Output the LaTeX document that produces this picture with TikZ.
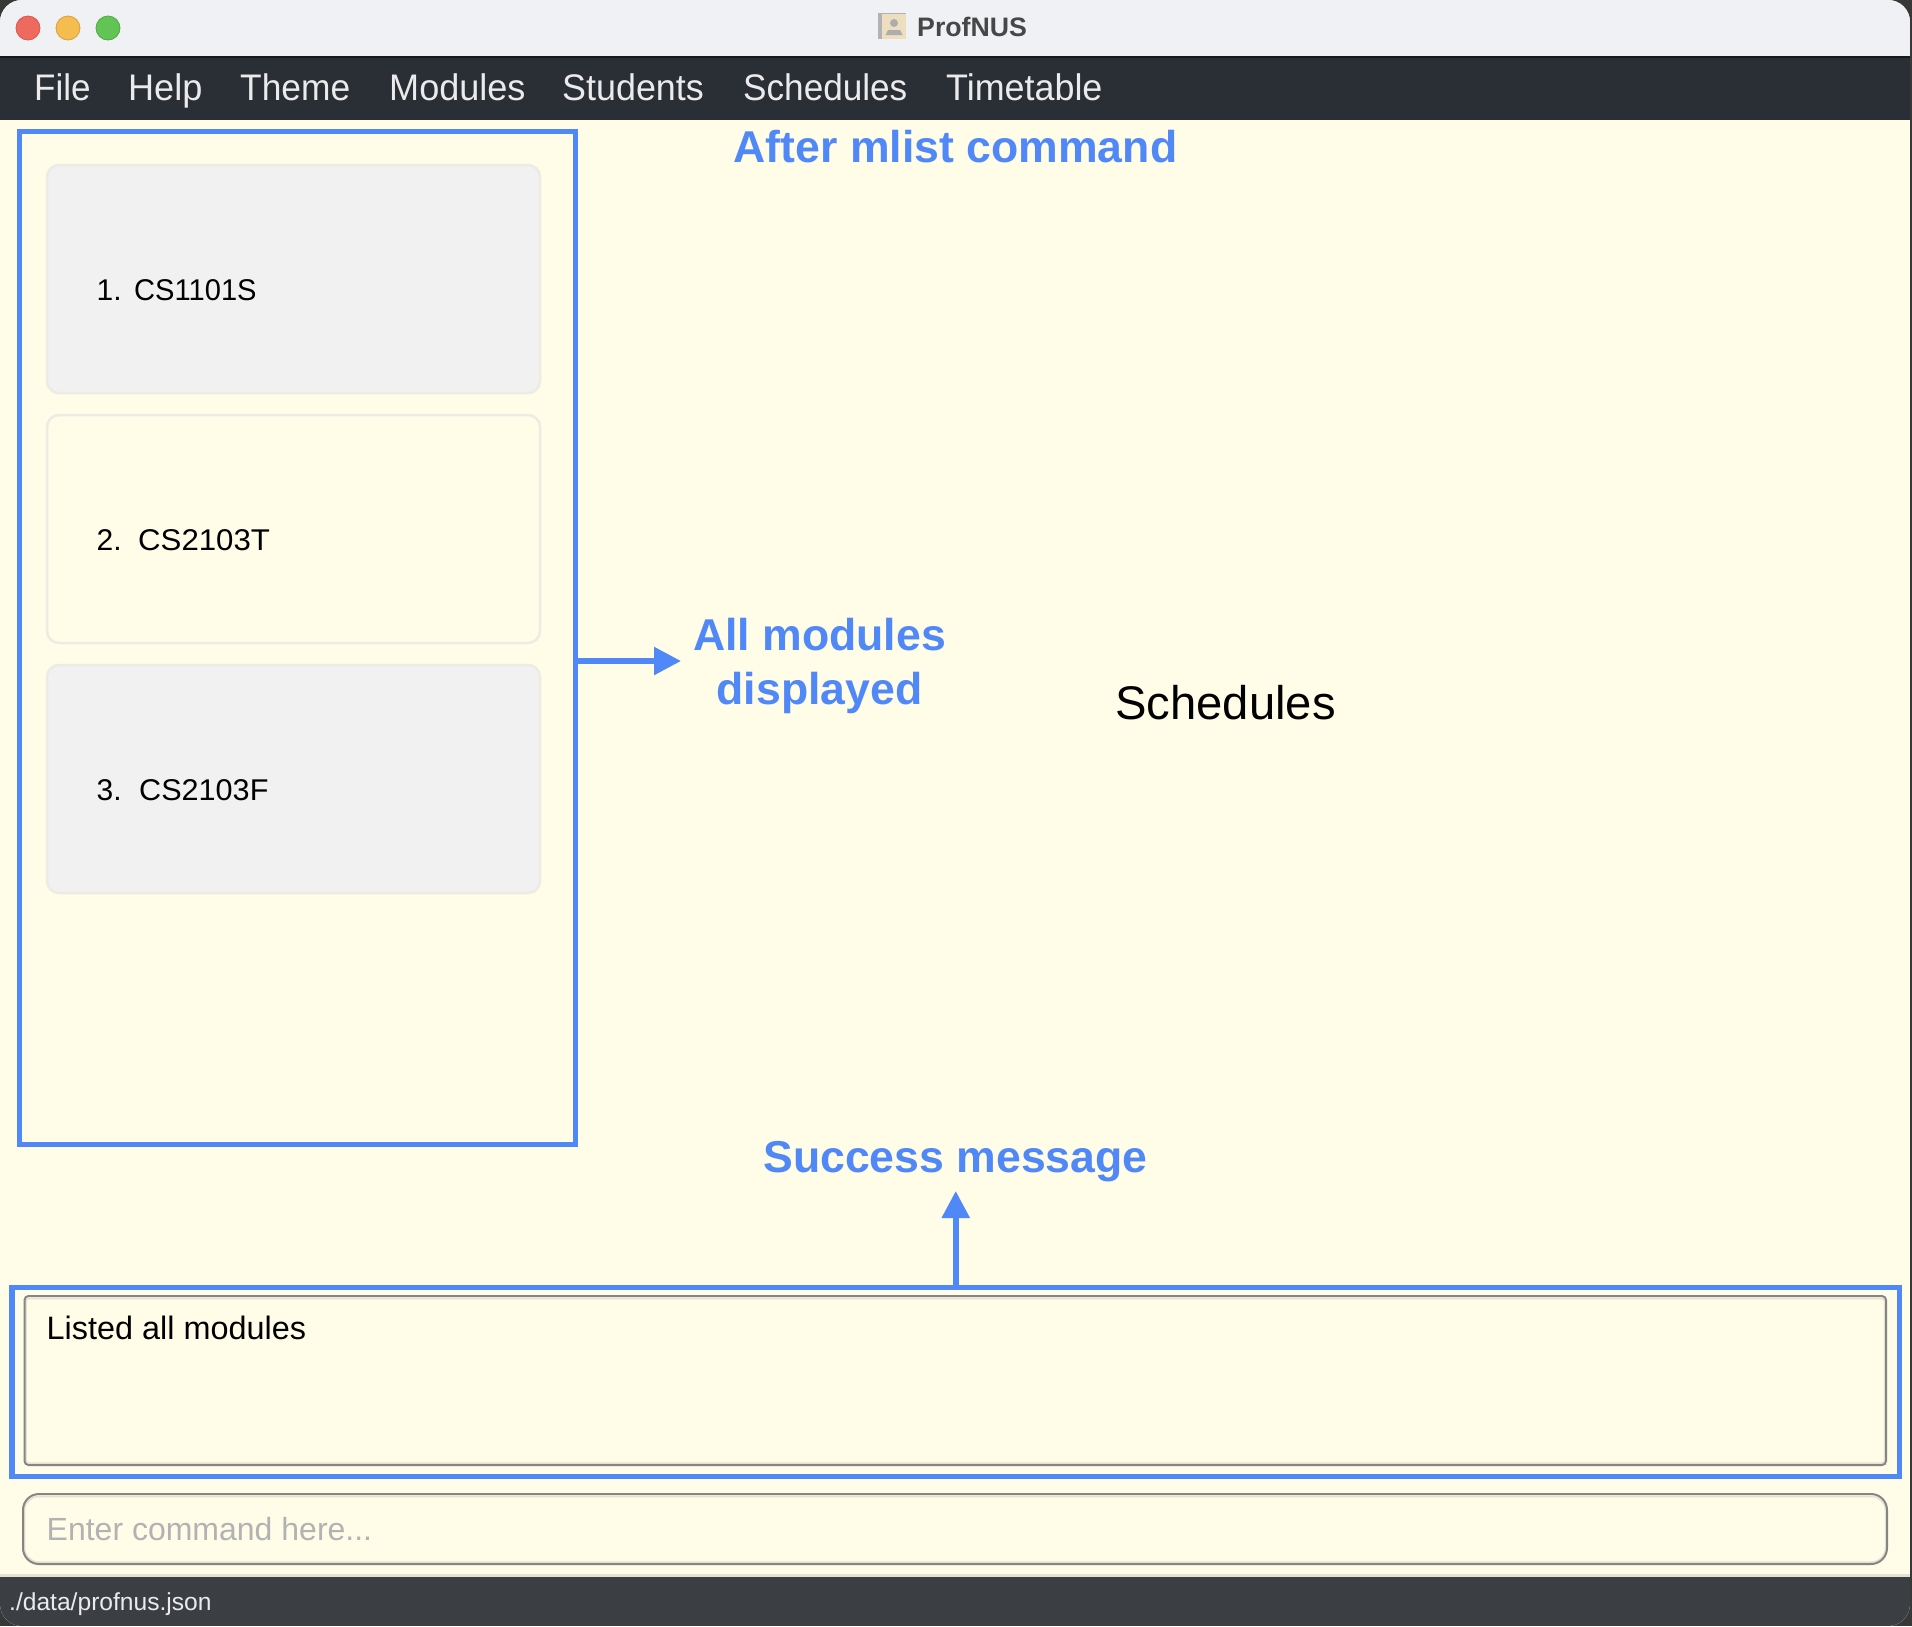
\documentclass[tikz,border=0pt]{standalone}
\usepackage{fontspec}
\setmainfont{Liberation Sans}
\usetikzlibrary{arrows.meta}
\definecolor{winbg}{HTML}{FFFDE8}
\definecolor{blueann}{HTML}{5188F8}
\definecolor{menubar}{HTML}{2A2E35}
\definecolor{statusbar}{HTML}{3B3E43}
\definecolor{titlebar}{HTML}{F0F1F4}
\definecolor{cardgrey}{HTML}{F1F1F1}
\definecolor{cardedge}{HTML}{ECECE4}
\definecolor{boxedge}{HTML}{858585}
\definecolor{softshade}{HTML}{E4E2D0}
\definecolor{tlr}{HTML}{EE6A5F}
\definecolor{tly}{HTML}{F5BD4F}
\definecolor{tlg}{HTML}{61C454}
\definecolor{tlrd}{HTML}{D8584E}
\definecolor{tlyd}{HTML}{D9A03C}
\definecolor{tlgd}{HTML}{52A845}
\definecolor{iconbg}{HTML}{ECDEBE}
\newcommand{\fsz}[1]{\fontsize{#1}{#1}\selectfont}
\newcommand{\sqz}[2]{\scalebox{#1}[1]{#2}}
\tikzset{
  annbox/.style={draw=blueann,line width=5.5pt,inner sep=0pt,fill=none},
  anntext/.style={text=blueann,inner sep=0pt,font=\fontsize{44.6}{53.5}\selectfont\bfseries,align=center},
  annarrow/.style={draw=blueann,line width=5.5pt,-{Triangle[length=27pt,width=27pt]}},
  menuitem/.style={anchor=base west,inner sep=0pt,text=white!92!black,font=\fsz{37}},
  cardbox/.style={draw=cardedge,line width=2.5pt,rounded corners=12pt,minimum width=493pt,minimum height=228pt,inner sep=0pt},
  cardtext/.style={anchor=base west,inner sep=0pt,font=\fsz{30}},
  light/.style={circle,inner sep=0pt,minimum size=24pt,line width=.8pt},
}
\begin{document}
\begin{tikzpicture}[x=1pt,y=-1pt]
\useasboundingbox (0,0) rectangle (1912,1626);
\fill[black!78] (0,0) rectangle (1912,1626);
\begin{scope}
\clip[rounded corners=22pt] (0,0) rectangle (1910,1626);
\fill[winbg] (0,0) rectangle (1910,1626);
\fill[titlebar] (0,0) rectangle (1910,56);
\fill[menubar] (0,56) rectangle (1910,120);
\fill[black!90] (0,56) rectangle (1910,58);
\fill[softshade] (0,1574) rectangle (1910,1578);
\fill[statusbar] (0,1577) rectangle (1910,1626);
\end{scope}
% traffic lights
\node[light,draw=tlrd,fill=tlr] (tlred) at (28,28) {};
\node[light,draw=tlyd,fill=tly] (tlyellow) at (68,28) {};
\node[light,draw=tlgd,fill=tlg] (tlgreen) at (108,28) {};
% title
\fill[black!30] (878,13) rectangle (906,39);
\fill[iconbg] (882,14) rectangle (906,39);
\fill[black!32] (894,23) circle (4pt);
\fill[black!32] (885.5,35) -- (888,30) -- (900,30) -- (902.5,35) -- cycle;
\node[anchor=base west,inner sep=0pt,text=black!72,font=\fsz{26.7}\bfseries] (title) at (917,36) {ProfNUS};
% menu
\node[menuitem] (mfile) at (34,100.7) {\sqz{.946}{File}};
\node[menuitem] (mhelp) at (128,100.7) {\sqz{.975}{Help}};
\node[menuitem] (mtheme) at (240,100.7) {\sqz{.955}{Theme}};
\node[menuitem] (mmods) at (389,100.7) {\sqz{.975}{Modules}};
\node[menuitem] (mstud) at (562,100.7) {\sqz{.97}{Students}};
\node[menuitem] (msched) at (743,100.7) {\sqz{.95}{Schedules}};
\node[menuitem] (mtime) at (946,100.7) {\sqz{.97}{Timetable}};
% cards
\node[cardbox,fill=cardgrey] (card1) at (293.5,279) {};
\node[cardbox,fill=winbg] (card2) at (293.5,529) {};
\node[cardbox,fill=cardgrey] (card3) at (293.5,779) {};
\node[cardtext] (n1) at (96.5,300) {1.};
\node[cardtext] (t1) at (134,300) {\sqz{.97}{CS1101S}};
\node[cardtext] (n2) at (96.5,550) {2.};
\node[cardtext] (t2) at (138,550) {\sqz{1.04}{CS2103T}};
\node[cardtext] (n3) at (96.5,800) {3.};
\node[cardtext] (t3) at (139,800) {\sqz{1.02}{CS2103F}};
% annotation boxes
\node[annbox,minimum width=556pt,minimum height=1013pt] (modbox) at (297.5,638) {};
% result & command boxes
\draw[softshade,line width=1.5pt,rounded corners=3pt] (26,1298.5) rectangle (1884.5,1463);
\node[draw=boxedge,line width=2pt,rounded corners=4pt,minimum width=1861.5pt,minimum height=169pt,inner sep=0pt] (result) at (955.25,1380.5) {};
\node[annbox,minimum width=1887.5pt,minimum height=189pt] (msgbox) at (955.75,1382) {};
\draw[softshade,line width=1.5pt,rounded corners=14pt] (24.5,1496.5) rectangle (1885.5,1562);
\node[draw=boxedge,line width=2pt,rounded corners=16pt,minimum width=1864pt,minimum height=70pt,inner sep=0pt] (cmd) at (955,1529) {};
\node[anchor=base west,inner sep=0pt,font=\fsz{32.4}] (listed) at (46.5,1339) {Listed all modules};
\node[anchor=base west,inner sep=0pt,text=black!30,font=\fsz{32}] (prompt) at (46.5,1540) {Enter command here...};
\node[anchor=base west,inner sep=0pt,text=white!92!black,font=\fsz{24.6}] (status) at (9,1610) {./data/profnus.json};
% labels
\node[anchor=base,inner sep=0pt,font=\fsz{47.2}] (sched) at (1225.5,719) {Schedules};
\node[anchor=base,anntext] (after) at (955.5,162) {After mlist command};
\node[anchor=base,anntext] (success) at (955.5,1172) {Success message};
\node[anntext] (allmods) at (819.5,666) {All modules\\displayed};
% arrows
\coordinate (tipA) at (681,661);
\coordinate (tipB) at (955.75,1191);
\draw[annarrow] (modbox.east |- tipA) -- (tipA);
\draw[annarrow] (msgbox.north) -- (tipB);
\end{tikzpicture}
\end{document}
